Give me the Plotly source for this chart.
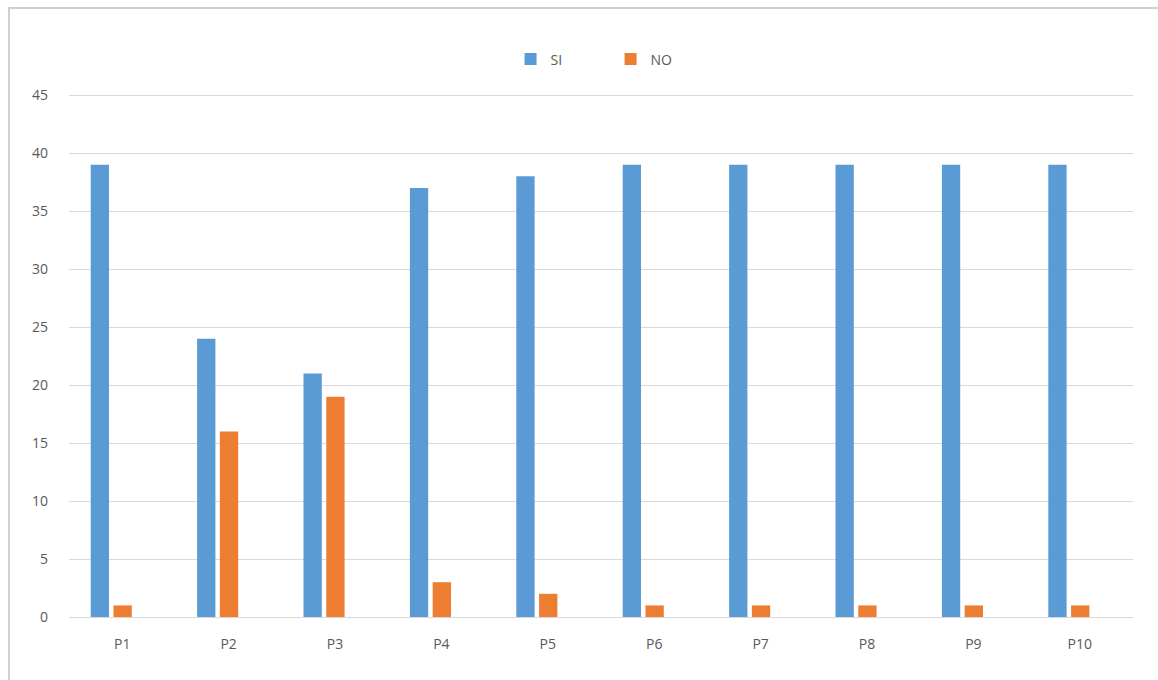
import plotly.graph_objects as go

# Survey answers per question
categories = ["P1", "P2", "P3", "P4", "P5", "P6", "P7", "P8", "P9", "P10"]
si_values = [39, 24, 21, 37, 38, 39, 39, 39, 39, 39]
no_values = [1, 16, 19, 3, 2, 1, 1, 1, 1, 1]
y_ticks = [0, 5, 10, 15, 20, 25, 30, 35, 40, 45]

BLUE = "#5B9BD5"
ORANGE = "#ED7D31"
TEXT = "#595959"
GRID = "#D9D9D9"

# bar width and offsets in category units (slot width = 1)
BAR_W = 0.172
SI_OFFSET = -0.296
NO_OFFSET = -0.082

fig = go.Figure()
fig.add_trace(go.Bar(name="SI", x=categories, y=si_values, marker_color=BLUE,
                     marker_line_width=0, width=BAR_W, offset=SI_OFFSET))
fig.add_trace(go.Bar(name="NO", x=categories, y=no_values, marker_color=ORANGE,
                     marker_line_width=0, width=BAR_W, offset=NO_OFFSET))

L, R, T, B = 69, 25, 94, 63
fig.update_layout(
    width=1158,
    height=680,
    barmode="overlay",
    paper_bgcolor="white",
    plot_bgcolor="white",
    margin=dict(l=L, r=R, t=T, b=B),
    font=dict(family="Open Sans, Liberation Sans, sans-serif", size=14, color=TEXT),
    legend=dict(
        orientation="h",
        x=0.509,
        xanchor="center",
        y=1.066,
        yanchor="middle",
        font=dict(size=14, color=TEXT),
        entrywidth=55,
        entrywidthmode="pixels",
        itemwidth=30,
    ),
    xaxis=dict(
        showgrid=False,
        showline=True,
        linecolor=GRID,
        linewidth=1,
        ticks="",
        ticklabelstandoff=14,
        tickfont=dict(size=14, color=TEXT),
    ),
    yaxis=dict(
        range=[0, 45.1],
        tickvals=y_ticks,
        showgrid=True,
        gridcolor=GRID,
        gridwidth=1,
        zeroline=False,
        showline=False,
        ticks="",
        ticklabelstandoff=20,
        tickfont=dict(size=14, color=TEXT),
    ),
    shapes=[
        dict(
            type="rect",
            xref="paper",
            yref="paper",
            x0=-(L - 9) / (1158 - L - R),
            x1=1.05,
            y0=-0.2,
            y1=1 + (T - 8) / (680 - T - B),
            line=dict(color="#D0D0D0", width=2),
            fillcolor="rgba(0,0,0,0)",
            layer="below",
        )
    ],
)

fig.write_html("out.html")
